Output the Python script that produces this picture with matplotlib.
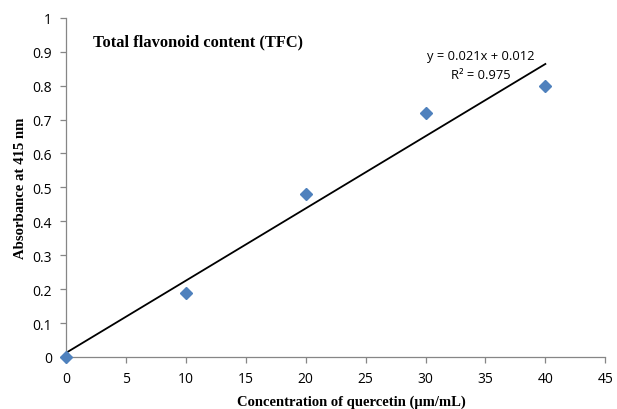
import matplotlib
matplotlib.use("Agg")
import matplotlib.pyplot as plt
import numpy as np

conc = [0, 10, 20, 30, 40]
absorb = [0.0, 0.19, 0.48, 0.72, 0.80]
eq_text = "y = 0.021x + 0.012"
r2_text = "R² = 0.975"
xticks = [0, 5, 10, 15, 20, 25, 30, 35, 40, 45]
yticks = [0, 0.1, 0.2, 0.3, 0.4, 0.5, 0.6, 0.7, 0.8, 0.9, 1]

fig = plt.figure(figsize=(6.17, 4.10), dpi=100)
ax = fig.add_axes([0.107, 0.127, 0.874, 0.827])

# linear trendline (least squares)
slope, intercept = np.polyfit(conc, absorb, 1)
xl = np.array([conc[0], conc[-1]])
ax.plot(xl, slope * xl + intercept, color="black", lw=1.3, zorder=2)
ax.plot(conc, absorb, "D", color="#4F81BD", ms=6.5, zorder=3, clip_on=False)

ax.set_xlim(0, 45)
ax.set_ylim(0, 1)
ax.set_xticks(xticks)
ax.set_yticks(yticks)
ax.set_yticklabels([f"{v:g}" for v in yticks])

for s in ["top", "right"]:
    ax.spines[s].set_visible(False)
for s in ["left", "bottom"]:
    ax.spines[s].set_color("#868686")
    ax.spines[s].set_linewidth(0.9)
ax.tick_params(direction="out", length=4, width=0.9, color="#868686",
               labelsize=10, labelcolor="black", pad=6)
for lab in ax.get_xticklabels() + ax.get_yticklabels():
    lab.set_family("Open Sans")

ax.set_xlabel("Concentration of quercetin (µm/mL)", family="Liberation Serif",
              fontweight="bold", fontsize=10.5)
ax.xaxis.set_label_coords(0.529, -0.112)
ax.set_ylabel("Absorbance at 415 nm", family="Liberation Serif",
              fontweight="bold", fontsize=10.6, labelpad=4)

ax.text(2.25, 0.932, "Total flavonoid content (TFC)", family="Liberation Serif",
        fontweight="bold", fontsize=11.8, va="center", ha="left")
ax.text(34.6, 0.888, eq_text, family="Open Sans",
        fontsize=9.3, ha="center", va="center")
ax.text(34.6, 0.834, r2_text, family="Open Sans",
        fontsize=9.3, ha="center", va="center")

fig.savefig("out.png", dpi=100)
